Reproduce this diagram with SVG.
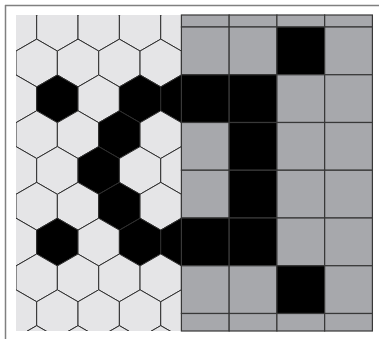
<svg xmlns="http://www.w3.org/2000/svg" xmlns:xlink="http://www.w3.org/1999/xlink" width="379" height="339" viewBox="0 0 379 339">
  <style>
    .frame { fill: none; stroke: #808080; stroke-width: 1.5; }
    .hx { fill: #e5e5e7; stroke: #2e2e2e; stroke-width: 1; }
    .hx.b { fill: #000000; }
    .sq { fill: #a7a8ac; stroke: #383838; stroke-width: 1.2; }
    .sq.b { fill: #000000; }
  </style>
  <defs>
    <polygon id="hex" points="0,-23.875 20.676,-11.9375 20.676,11.9375 0,23.875 -20.676,11.9375 -20.676,-11.9375"/>
    <clipPath id="hexclip"><rect x="16" y="15" width="165.41" height="316"/></clipPath>
  </defs>

  <rect x="0" y="0" width="379" height="339" fill="#ffffff"/>
  <path class="frame" d="M5,5.5 H379 M5.5,5 V339"/>

  <g id="hexgrid" clip-path="url(#hexclip)">
    <rect x="16" y="15" width="165.41" height="316" fill="#e5e5e7"/>
    <!-- row 0 -->
    <g transform="translate(0,27.2)">
      <use href="#hex" xlink:href="#hex" class="hx" x="16"/>
      <use href="#hex" xlink:href="#hex" class="hx" x="57.35"/>
      <use href="#hex" xlink:href="#hex" class="hx" x="98.70"/>
      <use href="#hex" xlink:href="#hex" class="hx" x="140.06"/>
      <use href="#hex" xlink:href="#hex" class="hx" x="181.41"/>
    </g>
    <!-- row 1 -->
    <g transform="translate(0,63.01)">
      <use href="#hex" xlink:href="#hex" class="hx" x="36.68"/>
      <use href="#hex" xlink:href="#hex" class="hx" x="78.03"/>
      <use href="#hex" xlink:href="#hex" class="hx" x="119.38"/>
      <use href="#hex" xlink:href="#hex" class="hx" x="160.73"/>
    </g>
    <!-- row 2 -->
    <g transform="translate(0,98.83)">
      <use href="#hex" xlink:href="#hex" class="hx" x="16"/>
      <use href="#hex" xlink:href="#hex" class="hx b" x="57.35"/>
      <use href="#hex" xlink:href="#hex" class="hx" x="98.70"/>
      <use href="#hex" xlink:href="#hex" class="hx b" x="140.06"/>
      <use href="#hex" xlink:href="#hex" class="hx b" x="181.41"/>
    </g>
    <!-- row 3 -->
    <g transform="translate(0,134.64)">
      <use href="#hex" xlink:href="#hex" class="hx" x="36.68"/>
      <use href="#hex" xlink:href="#hex" class="hx" x="78.03"/>
      <use href="#hex" xlink:href="#hex" class="hx b" x="119.38"/>
      <use href="#hex" xlink:href="#hex" class="hx" x="160.73"/>
    </g>
    <!-- row 4 -->
    <g transform="translate(0,170.45)">
      <use href="#hex" xlink:href="#hex" class="hx" x="16"/>
      <use href="#hex" xlink:href="#hex" class="hx" x="57.35"/>
      <use href="#hex" xlink:href="#hex" class="hx b" x="98.70"/>
      <use href="#hex" xlink:href="#hex" class="hx" x="140.06"/>
      <use href="#hex" xlink:href="#hex" class="hx" x="181.41"/>
    </g>
    <!-- row 5 -->
    <g transform="translate(0,206.26)">
      <use href="#hex" xlink:href="#hex" class="hx" x="36.68"/>
      <use href="#hex" xlink:href="#hex" class="hx" x="78.03"/>
      <use href="#hex" xlink:href="#hex" class="hx b" x="119.38"/>
      <use href="#hex" xlink:href="#hex" class="hx" x="160.73"/>
    </g>
    <!-- row 6 -->
    <g transform="translate(0,242.08)">
      <use href="#hex" xlink:href="#hex" class="hx" x="16"/>
      <use href="#hex" xlink:href="#hex" class="hx b" x="57.35"/>
      <use href="#hex" xlink:href="#hex" class="hx" x="98.70"/>
      <use href="#hex" xlink:href="#hex" class="hx b" x="140.06"/>
      <use href="#hex" xlink:href="#hex" class="hx b" x="181.41"/>
    </g>
    <!-- row 7 -->
    <g transform="translate(0,277.89)">
      <use href="#hex" xlink:href="#hex" class="hx" x="36.68"/>
      <use href="#hex" xlink:href="#hex" class="hx" x="78.03"/>
      <use href="#hex" xlink:href="#hex" class="hx" x="119.38"/>
      <use href="#hex" xlink:href="#hex" class="hx" x="160.73"/>
    </g>
    <!-- row 8 -->
    <g transform="translate(0,313.7)">
      <use href="#hex" xlink:href="#hex" class="hx" x="16"/>
      <use href="#hex" xlink:href="#hex" class="hx" x="57.35"/>
      <use href="#hex" xlink:href="#hex" class="hx" x="98.70"/>
      <use href="#hex" xlink:href="#hex" class="hx" x="140.06"/>
      <use href="#hex" xlink:href="#hex" class="hx" x="181.41"/>
    </g>
    <!-- row 9 -->
    <g transform="translate(0,349.52)">
      <use href="#hex" xlink:href="#hex" class="hx" x="36.68"/>
      <use href="#hex" xlink:href="#hex" class="hx" x="78.03"/>
      <use href="#hex" xlink:href="#hex" class="hx" x="119.38"/>
      <use href="#hex" xlink:href="#hex" class="hx" x="160.73"/>
    </g>
  </g>

  <g id="squaregrid">
    <!-- top partial row -->
    <rect class="sq" x="181.41" y="15" width="47.75" height="12"/>
    <rect class="sq" x="229.16" y="15" width="47.75" height="12"/>
    <rect class="sq" x="276.91" y="15" width="47.75" height="12"/>
    <rect class="sq" x="324.66" y="15" width="47.75" height="12"/>
    <!-- row 1 -->
    <rect class="sq" x="181.41" y="27" width="47.75" height="47.75"/>
    <rect class="sq" x="229.16" y="27" width="47.75" height="47.75"/>
    <rect class="sq b" x="276.91" y="27" width="47.75" height="47.75"/>
    <rect class="sq" x="324.66" y="27" width="47.75" height="47.75"/>
    <!-- row 2 -->
    <rect class="sq b" x="181.41" y="74.75" width="47.75" height="47.75"/>
    <rect class="sq b" x="229.16" y="74.75" width="47.75" height="47.75"/>
    <rect class="sq" x="276.91" y="74.75" width="47.75" height="47.75"/>
    <rect class="sq" x="324.66" y="74.75" width="47.75" height="47.75"/>
    <!-- row 3 -->
    <rect class="sq" x="181.41" y="122.5" width="47.75" height="47.75"/>
    <rect class="sq b" x="229.16" y="122.5" width="47.75" height="47.75"/>
    <rect class="sq" x="276.91" y="122.5" width="47.75" height="47.75"/>
    <rect class="sq" x="324.66" y="122.5" width="47.75" height="47.75"/>
    <!-- row 4 -->
    <rect class="sq" x="181.41" y="170.25" width="47.75" height="47.75"/>
    <rect class="sq b" x="229.16" y="170.25" width="47.75" height="47.75"/>
    <rect class="sq" x="276.91" y="170.25" width="47.75" height="47.75"/>
    <rect class="sq" x="324.66" y="170.25" width="47.75" height="47.75"/>
    <!-- row 5 -->
    <rect class="sq b" x="181.41" y="218" width="47.75" height="47.75"/>
    <rect class="sq b" x="229.16" y="218" width="47.75" height="47.75"/>
    <rect class="sq" x="276.91" y="218" width="47.75" height="47.75"/>
    <rect class="sq" x="324.66" y="218" width="47.75" height="47.75"/>
    <!-- row 6 -->
    <rect class="sq" x="181.41" y="265.75" width="47.75" height="47.75"/>
    <rect class="sq" x="229.16" y="265.75" width="47.75" height="47.75"/>
    <rect class="sq b" x="276.91" y="265.75" width="47.75" height="47.75"/>
    <rect class="sq" x="324.66" y="265.75" width="47.75" height="47.75"/>
    <!-- bottom partial row -->
    <rect class="sq" x="181.41" y="313.5" width="47.75" height="17.5"/>
    <rect class="sq" x="229.16" y="313.5" width="47.75" height="17.5"/>
    <rect class="sq" x="276.91" y="313.5" width="47.75" height="17.5"/>
    <rect class="sq" x="324.66" y="313.5" width="47.75" height="17.5"/>
  </g>
</svg>
